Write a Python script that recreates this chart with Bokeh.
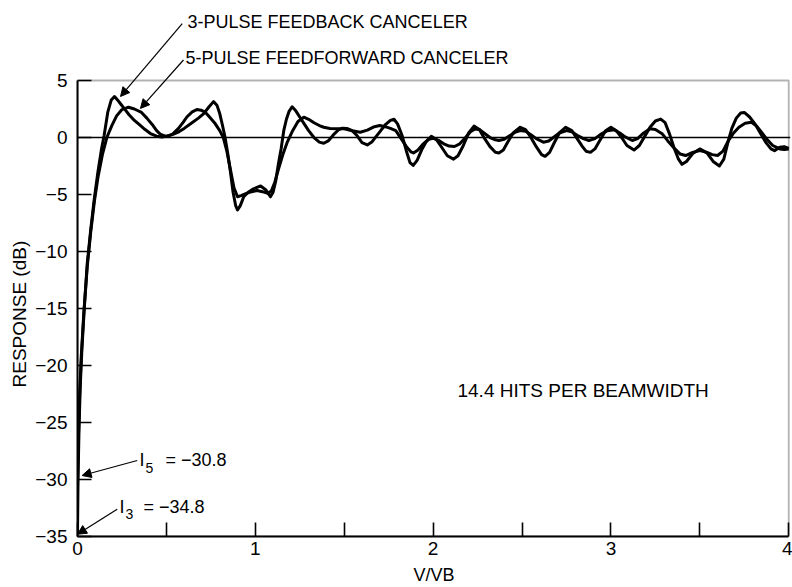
from bokeh.plotting import figure
from bokeh.models import (Range1d, FixedTicker, Span, Label, Arrow, NormalHead,
                          BoxAnnotation, Title)
from bokeh.embed import file_html
from bokeh.resources import INLINE

# ---- data ----
# 3-pulse feedback canceler
fb_x = [0, 0.003, 0.008, 0.015, 0.025, 0.04, 0.055, 0.075, 0.095, 0.115,
        0.135, 0.15, 0.17, 0.19, 0.208, 0.225, 0.245, 0.26, 0.29, 0.32,
        0.35, 0.38, 0.41, 0.445, 0.475, 0.51, 0.54, 0.57, 0.60, 0.64,
        0.68, 0.71, 0.74, 0.765, 0.785, 0.80, 0.815, 0.83, 0.845, 0.86,
        0.875, 0.89, 0.90, 0.915, 0.935, 0.96, 0.99, 1.03, 1.06, 1.085,
        1.10, 1.115, 1.13, 1.145, 1.16, 1.175, 1.19, 1.207, 1.225, 1.25,
        1.275, 1.30, 1.33, 1.36, 1.385, 1.41, 1.44, 1.47, 1.49, 1.515,
        1.545, 1.57, 1.60, 1.63, 1.655, 1.68, 1.70, 1.73, 1.76, 1.78,
        1.80, 1.825, 1.85, 1.87, 1.888, 1.91, 1.935, 1.96, 1.99, 2.02,
        2.05, 2.08, 2.115, 2.14, 2.17, 2.20, 2.23, 2.26, 2.29, 2.32,
        2.35, 2.37, 2.395, 2.42, 2.45, 2.49, 2.52, 2.55, 2.58, 2.61,
        2.63, 2.655, 2.68, 2.71, 2.745, 2.78, 2.81, 2.84, 2.86, 2.885,
        2.91, 2.94, 2.97, 3.0, 3.03, 3.06, 3.09, 3.13, 3.16, 3.19,
        3.22, 3.25, 3.28, 3.305, 3.33, 3.355, 3.38, 3.40, 3.425, 3.46,
        3.50, 3.54, 3.575, 3.61, 3.635, 3.66, 3.68, 3.705, 3.73, 3.75,
        3.78, 3.81, 3.84, 3.87, 3.90, 3.92, 3.95, 3.975, 4.0]
fb_y = [-34.8, -30, -26, -22, -18.5, -14.5, -11, -8, -5.3, -3.0,
        -1.0, 0.2, 2.2, 3.3, 3.6, 3.3, 2.9, 2.6, 2.0, 1.5,
        1.1, 0.7, 0.35, 0.12, 0.05, 0.15, 0.3, 0.5, 0.8, 1.25,
        1.7, 2.1, 2.7, 3.15, 2.8, 2.1, 1.1, 0.0, -1.4, -3.0,
        -4.8, -6.0, -6.35, -6.0, -5.2, -4.8, -4.5, -4.25, -4.6, -5.2,
        -4.8, -3.8, -2.3, -1.0, 0.6, 1.6, 2.3, 2.7, 2.4, 1.8,
        1.2, 0.6, 0.0, -0.4, -0.5, -0.3, 0.25, 0.7, 0.82, 0.8,
        0.6, 0.2, -0.45, -0.65, -0.4, 0.1, 0.5, 1.1, 1.5, 1.6,
        1.2, 0.2, -1.2, -2.2, -2.45, -2.0, -1.1, -0.4, 0.1, -0.2,
        -0.9, -1.6, -1.9, -1.6, -0.7, 0.4, 1.0, 0.7, -0.1, -0.8,
        -1.3, -1.35, -1.1, -0.4, 0.4, 0.9, 0.7, 0.0, -0.8, -1.5,
        -1.65, -1.3, -0.5, 0.4, 0.9, 0.6, -0.1, -0.8, -1.2, -1.3,
        -1.0, -0.2, 0.6, 0.9, 0.6, 0.0, -0.7, -1.1, -0.7, 0.1,
        0.9, 1.45, 1.62, 1.3, 0.3, -0.9, -1.9, -2.35, -2.1, -1.4,
        -1.0, -1.35, -2.1, -2.5, -1.9, -0.3, 0.8, 1.7, 2.15, 2.2,
        1.8, 1.2, 0.4, -0.4, -1.0, -1.15, -0.85, -0.8, -0.95]

# 5-pulse feedforward canceler
ff_x = [0, 0.004, 0.01, 0.02, 0.035, 0.055, 0.075, 0.095, 0.115, 0.14,
        0.165, 0.193, 0.22, 0.25, 0.287, 0.32, 0.36, 0.39, 0.42, 0.445,
        0.465, 0.50, 0.535, 0.568, 0.595, 0.615, 0.645, 0.671, 0.695, 0.72,
        0.745, 0.775, 0.80, 0.82, 0.84, 0.86, 0.88, 0.90, 0.92, 0.95,
        0.98, 1.01, 1.04, 1.07, 1.09, 1.11, 1.13, 1.155, 1.18, 1.21,
        1.24, 1.273, 1.30, 1.33, 1.36, 1.385, 1.42, 1.46, 1.50, 1.545,
        1.59, 1.63, 1.67, 1.70, 1.73, 1.76, 1.79, 1.82, 1.85, 1.875,
        1.89, 1.915, 1.945, 1.975, 2.0, 2.03, 2.06, 2.09, 2.12, 2.15,
        2.18, 2.21, 2.235, 2.26, 2.29, 2.32, 2.35, 2.37, 2.40, 2.43,
        2.46, 2.49, 2.52, 2.55, 2.58, 2.62, 2.65, 2.68, 2.71, 2.75,
        2.78, 2.81, 2.845, 2.876, 2.91, 2.94, 2.98, 3.02, 3.05, 3.08,
        3.12, 3.15, 3.18, 3.22, 3.25, 3.29, 3.32, 3.36, 3.39, 3.42,
        3.46, 3.50, 3.54, 3.57, 3.60, 3.63, 3.66, 3.69, 3.72, 3.755,
        3.79, 3.82, 3.85, 3.88, 3.91, 3.95, 3.975, 4.0]
ff_y = [-30.8, -27, -23.5, -19.5, -15.5, -11.3, -8.2, -5.6, -3.5, -1.5,
        0.0, 1.05, 1.9, 2.45, 2.66, 2.5, 2.2, 1.7, 1.15, 0.6,
        0.3, 0.08, 0.3, 0.8, 1.35, 1.8, 2.25, 2.45, 2.4, 2.2,
        1.75, 1.2, 0.6, 0.0, -1.2, -2.8, -4.4, -5.2, -5.1, -4.9,
        -4.75, -4.65, -4.75, -4.9, -4.7, -3.9, -2.8, -1.5, -0.4, 0.6,
        1.4, 1.78, 1.6, 1.3, 1.05, 0.9, 0.8, 0.76, 0.76, 0.6,
        0.46, 0.65, 0.95, 1.05, 0.95, 0.8, 0.6, -0.1, -0.8, -1.25,
        -1.35, -1.1, -0.55, -0.15, -0.06, -0.25, -0.55, -0.75, -0.79, -0.55,
        -0.05, 0.5, 0.75, 0.7, 0.35, 0.0, -0.2, -0.26, -0.15, 0.15,
        0.45, 0.61, 0.55, 0.25, -0.1, -0.41, -0.3, 0.05, 0.4, 0.61,
        0.5, 0.2, -0.1, -0.26, -0.1, 0.25, 0.6, 0.67, 0.4, 0.05,
        -0.26, -0.1, 0.35, 0.76, 0.7, 0.3, -0.3, -1.0, -1.45, -1.58,
        -1.3, -1.14, -1.3, -1.5, -1.58, -1.2, -0.3, 0.4, 0.9, 1.25,
        1.34, 1.0, 0.4, -0.2, -0.7, -1.0, -1.05, -1.0]

y_ticks = [-35, -30, -25, -20, -15, -10, -5, 0, 5]
y_tick_labels = ["\u221235", "\u221230", "\u221225", "\u221220", "\u221215",
                 "\u221210", "\u22125", "0", "5"]
x_ticks = [0, 0.5, 1, 1.5, 2, 2.5, 3, 3.5, 4]
x_tick_labels = ["0", "", "1", "", "2", "", "3", "", "4"]

x_min, x_max = 0, 4
y_min, y_max = -35, 5

x_title = "V/VB"
y_title = "RESPONSE (dB)"
label_fb = "3-PULSE FEEDBACK CANCELER"
label_ff = "5-PULSE FEEDFORWARD CANCELER"
note_hits = "14.4 HITS PER BEAMWIDTH"
i5_value = "= \u221230.8"
i3_value = "= \u221234.8"

FONT = "Liberation Sans"

# frame extends to the top of the canvas so the annotations above the box are not clipped
p = figure(width=792, height=587, x_range=Range1d(0, 4.01), y_range=Range1d(-35, 12.02),
           output_backend="svg", toolbar_location=None,
           min_border_left=77, min_border_right=2, min_border_top=0,
           min_border_bottom=51)
p.grid.visible = False
p.background_fill_color = "white"
p.border_fill_color = "white"
p.outline_line_color = None

p.add_layout(BoxAnnotation(left=x_min, right=x_max, bottom=y_min, top=y_max,
                           fill_alpha=0, line_color="black", line_width=1.8))

p.xaxis.ticker = FixedTicker(ticks=x_ticks)
p.xaxis.major_label_overrides = {t: s for t, s in zip(x_ticks, x_tick_labels)}
p.xaxis.bounds = (x_min, x_max)
p.yaxis.ticker = FixedTicker(ticks=y_ticks)
p.yaxis.major_label_overrides = {t: s for t, s in zip(y_ticks, y_tick_labels)}
p.yaxis.bounds = (y_min, y_max)
p.xaxis.axis_label = x_title
for ax in (p.xaxis, p.yaxis):
    ax.axis_line_width = 2
    ax.axis_line_color = "black"
    ax.major_tick_in = 14
    ax.major_tick_out = 0
    ax.major_tick_line_width = 1.6
    ax.major_tick_line_color = "black"
    ax.minor_tick_in = 0
    ax.minor_tick_out = 0
    ax.major_label_text_font = FONT
    ax.major_label_text_font_size = "19px"
    ax.major_label_text_color = "black"
    ax.axis_label_text_font = FONT
    ax.axis_label_text_font_style = "normal"
    ax.axis_label_text_color = "black"
p.xaxis.axis_label_text_font_size = "18px"
p.yaxis.major_label_standoff = 10
p.xaxis.major_label_standoff = 5
p.xaxis.axis_label_standoff = 7

# y-axis title placed along the box height (not the extended frame)
p.add_layout(Title(text=y_title, align="left", offset=149, standoff=6,
                   text_font=FONT, text_font_size="19px", text_font_style="normal",
                   text_color="black"), "left")

p.add_layout(Span(location=0, dimension="width", line_color="black", line_width=1.5))

p.line(fb_x, fb_y, line_color="black", line_width=3, line_join="round")
p.line(ff_x, ff_y, line_color="black", line_width=3, line_join="round")

def lbl(x, y, text, size="18px", xo=0, yo=0):
    p.add_layout(Label(x=x, y=y, text=text, x_offset=xo, y_offset=yo,
                       text_font=FONT, text_font_size=size, text_color="black",
                       text_baseline="middle", text_align="left"))

def arrow(x0, y0, x1, y1):
    p.add_layout(Arrow(x_start=x0, y_start=y0, x_end=x1, y_end=y1,
                       line_color="black", line_width=1.2,
                       end=NormalHead(size=9, fill_color="black", line_color="black")))

lbl(0.619, 10.1, label_fb)
lbl(0.607, 7.0, label_ff)
arrow(0.589, 10.0, 0.242, 3.6)
arrow(0.596, 6.8, 0.354, 2.55)

lbl(2.137, -22.2, note_hits, size="19px")

lbl(0.349, -28.33, "I")
lbl(0.349, -28.33, "5", size="14px", xo=6, yo=-8)
lbl(0.349, -28.33, i5_value, xo=26)
arrow(0.336, -28.33, 0.026, -29.65)

lbl(0.236, -32.37, "I")
lbl(0.236, -32.37, "3", size="14px", xo=6, yo=-7)
lbl(0.236, -32.37, i3_value, xo=24)
arrow(0.223, -32.6, 0.0, -34.8)

open("out.html", "w").write(file_html(p, INLINE))
